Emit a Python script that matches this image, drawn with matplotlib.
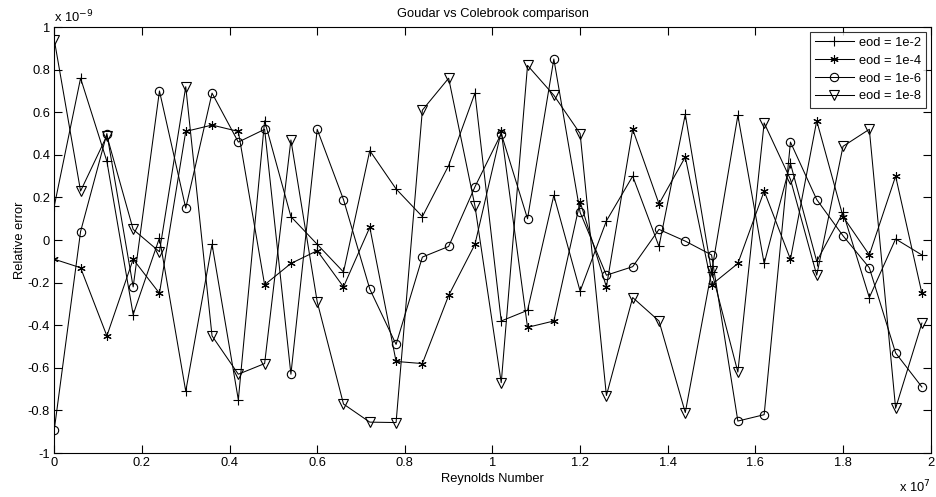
import matplotlib
matplotlib.use('Agg')
import matplotlib.pyplot as plt
from matplotlib.ticker import FuncFormatter, MultipleLocator

plt.rcParams['font.family'] = ['Liberation Sans', 'DejaVu Sans']

# Reynolds number (x 1e7)
reynolds = [0.00, 0.06, 0.12, 0.18, 0.24, 0.30, 0.36, 0.42, 0.48, 0.54,
            0.60, 0.66, 0.72, 0.78, 0.84, 0.90, 0.96, 1.02, 1.08, 1.14,
            1.20, 1.26, 1.32, 1.38, 1.44, 1.50, 1.56, 1.62, 1.68, 1.74,
            1.80, 1.86, 1.92, 1.98]

# relative error (x 1e-9)
err_1e2 = [0.16, 0.76, 0.37, -0.35, 0.01, -0.71, -0.02, -0.75, 0.56, 0.11,
           -0.02, -0.15, 0.42, 0.24, 0.11, 0.35, 0.69, -0.38, -0.33, 0.21,
           -0.24, 0.09, 0.30, -0.03, 0.59, -0.15, 0.585, -0.11, 0.36, -0.10,
           0.13, -0.27, 0.005, -0.07]
err_1e4 = [-0.09, -0.13, -0.45, -0.09, -0.25, 0.51, 0.54, 0.51, -0.21, -0.11,
           -0.05, -0.22, 0.06, -0.57, -0.58, -0.26, -0.02, 0.51, -0.41, -0.38,
           0.18, -0.22, 0.52, 0.17, 0.39, -0.21, -0.11, 0.23, -0.09, 0.56,
           0.11, -0.07, 0.30, -0.25]
err_1e6 = [-0.89, 0.04, 0.50, -0.22, 0.70, 0.15, 0.69, 0.46, 0.52, -0.63,
           0.52, 0.19, -0.23, -0.49, -0.08, -0.03, 0.25, 0.50, 0.10, 0.85,
           0.13, -0.165, -0.125, 0.05, -0.005, -0.07, -0.85, -0.82, 0.46, 0.19,
           0.02, -0.13, -0.53, -0.69]
err_1e8 = [0.94, 0.23, 0.49, 0.05, -0.055, 0.72, -0.45, -0.63, -0.58, 0.47,
           -0.29, -0.77, -0.855, -0.857, 0.61, 0.76, 0.16, -0.67, 0.82, 0.68,
           0.50, -0.73, -0.27, -0.38, -0.81, -0.145, -0.62, 0.55, 0.285, -0.165,
           0.44, 0.52, -0.79, -0.39]

labels = ['eod = 1e-2', 'eod = 1e-4', 'eod = 1e-6', 'eod = 1e-8']

fs = 9.3
fig = plt.figure(figsize=(9.36, 4.97), dpi=100)
ax = fig.add_axes([0.058, 0.0885, 0.9363, 0.857])

ax.plot(reynolds, err_1e2, color='k', lw=0.75, marker='+', ms=7, mew=0.8, label=labels[0])
ax.plot(reynolds, err_1e4, color='k', lw=0.75, marker=(6, 2, 0), ms=6, mew=0.8, label=labels[1])
ax.plot(reynolds, err_1e6, color='k', lw=0.75, marker='o', ms=6, mew=0.8, mfc='none', label=labels[2])
ax.plot(reynolds, err_1e8, color='k', lw=0.75, marker='v', ms=6.5, mew=0.8, mfc='none', label=labels[3])

ax.set_xlim(0, 2)
ax.set_ylim(-1, 1)
ax.xaxis.set_major_locator(MultipleLocator(0.2))
ax.yaxis.set_major_locator(MultipleLocator(0.2))
fmt = FuncFormatter(lambda v, p: '%g' % round(v, 6))
ax.xaxis.set_major_formatter(fmt)
ax.yaxis.set_major_formatter(fmt)
ax.tick_params(direction='in', length=6, width=0.8, labelsize=fs, top=True, right=True, pad=3)
for s in ax.spines.values():
    s.set_linewidth(0.8)

ax.set_title('Goudar vs Colebrook comparison', fontsize=fs, pad=7)
ax.set_xlabel('Reynolds Number', fontsize=fs, labelpad=3)
ax.set_ylabel('Relative error', fontsize=fs, labelpad=1)

# scale factors, MATLAB style
ax.text(0, 1.005, r'x 10$^{-9}$', transform=ax.transAxes, fontsize=fs, ha='left', va='bottom')
ax.text(1, -0.06, r'x 10$^{7}$', transform=ax.transAxes, fontsize=fs, ha='right', va='top')

leg = ax.legend(loc='upper right', fontsize=fs, frameon=True, fancybox=False,
                edgecolor='k', borderaxespad=0.35, handlelength=3.0, labelspacing=0.45,
                borderpad=0.4, handletextpad=0.4)
leg.get_frame().set_linewidth(0.8)

fig.savefig('out.png', dpi=100)
